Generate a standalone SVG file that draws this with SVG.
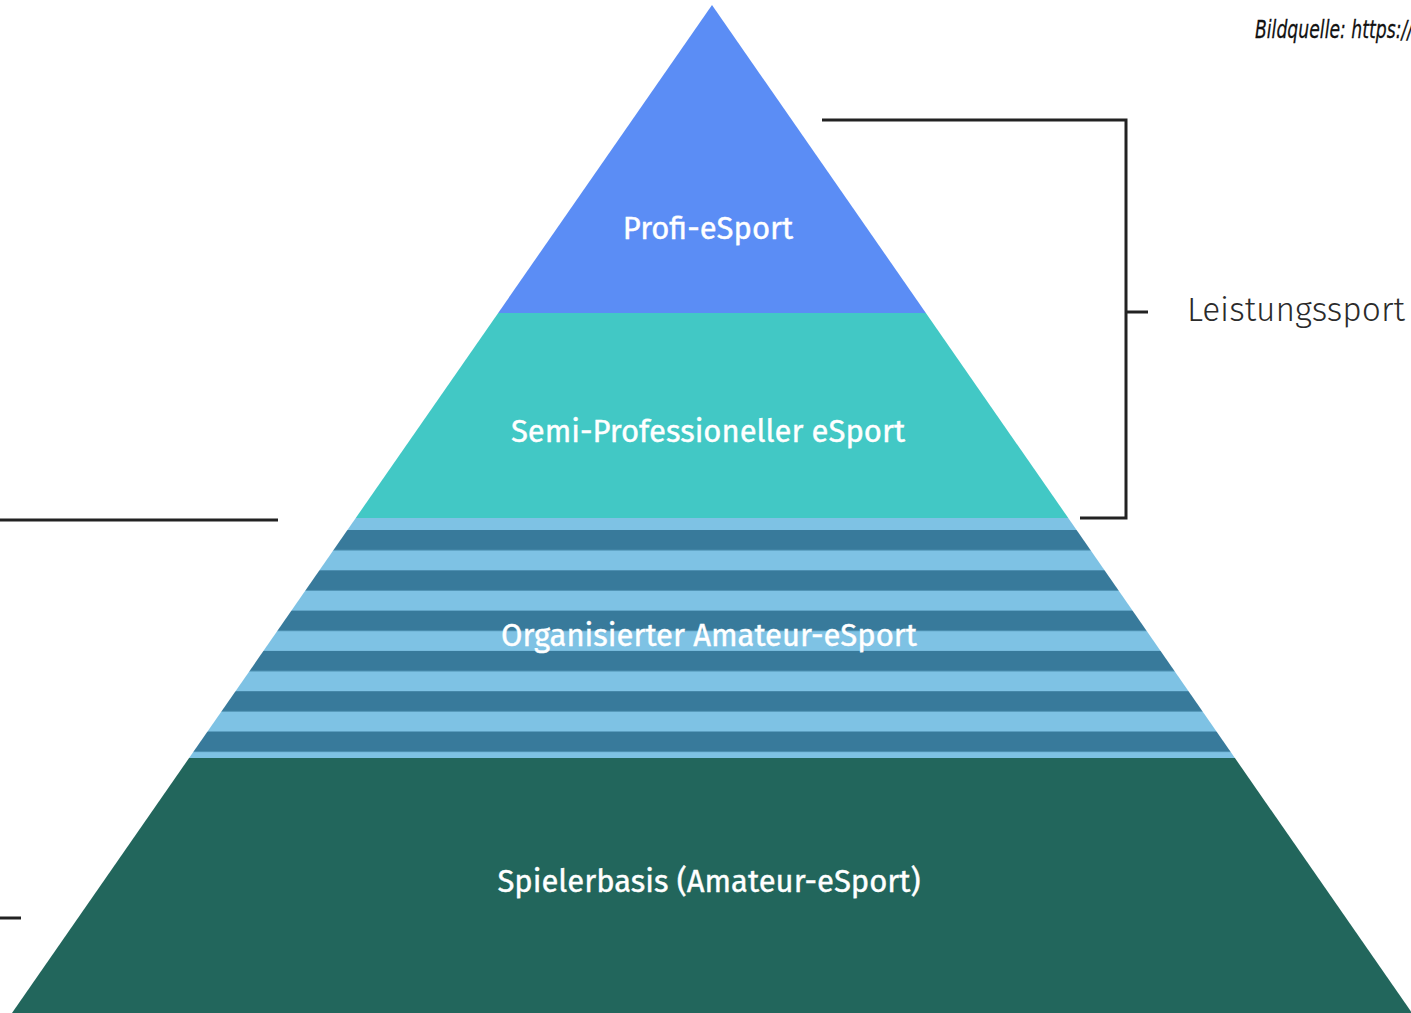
<svg xmlns="http://www.w3.org/2000/svg" width="1411" height="1013" viewBox="0 0 1411 1013">
  <style>
    .lbl { font-family: "Fira Sans", "Noto Sans", "Open Sans", sans-serif; fill: #ffffff; text-anchor: middle; font-weight: 400; }
    .side { font-family: "Fira Sans", "Noto Sans", "Open Sans", sans-serif; fill: #2b2b2b; font-weight: 300; }
    .ln { stroke: #222222; stroke-width: 3; fill: none; }
    .cap { font-family: "DejaVu Sans", sans-serif; font-style: italic; fill: #111111; }
  </style>
  <defs>
    <clipPath id="pyr">
      <polygon points="712,5 1412,1013 12,1013"/>
    </clipPath>
    <pattern id="stripes" x="0" y="530" width="1411" height="40.3" patternUnits="userSpaceOnUse">
      <rect x="0" y="0" width="1411" height="40.3" fill="#7ec2e4"/>
      <rect x="0" y="0" width="1411" height="20.3" fill="#387a9b"/>
    </pattern>
  </defs>

  <rect width="1411" height="1013" fill="#ffffff"/>

  <!-- pyramid tiers, cut to the triangle outline -->
  <g clip-path="url(#pyr)">
    <g id="profi">
      <rect x="0" y="0" width="1411" height="313" fill="#5b8df5"/>
    </g>
    <g id="semi">
      <rect x="0" y="313" width="1411" height="205" fill="#42c8c5"/>
    </g>
    <g id="organisiert">
      <rect x="0" y="518" width="1411" height="240" fill="url(#stripes)"/>
    </g>
    <g id="basis">
      <rect x="0" y="758" width="1411" height="255" fill="#22665c"/>
    </g>
  </g>

  <text class="lbl" x="708" y="239" font-size="31" stroke="#ffffff" stroke-width="0.4">Profi-eSport</text>
  <text class="lbl" x="708" y="442" font-size="31" stroke="#ffffff" stroke-width="0.4">Semi-Professioneller eSport</text>
  <text class="lbl" x="709" y="646" font-size="31" stroke="#ffffff" stroke-width="0.4">Organisierter Amateur-eSport</text>
  <text class="lbl" x="709" y="892" font-size="31" stroke="#ffffff" stroke-width="0.4">Spielerbasis (Amateur-eSport)</text>

  <g id="connectors">
    <polyline class="ln" points="822,120 1126,120 1126,518 1080,518"/>
    <line class="ln" x1="1126" y1="312" x2="1148" y2="312"/>
    <line class="ln" x1="0" y1="520" x2="278" y2="520"/>
    <line class="ln" x1="0" y1="918" x2="21" y2="918"/>
  </g>

  <g id="leistungssport">
    <text class="side" x="1187" y="321" font-size="33.5">Leistungssport</text>
  </g>

  <text class="cap" transform="translate(1255,38) scale(0.69,1)" font-size="25" stroke="#111111" stroke-width="0.3">Bildquelle: https://</text>
</svg>
